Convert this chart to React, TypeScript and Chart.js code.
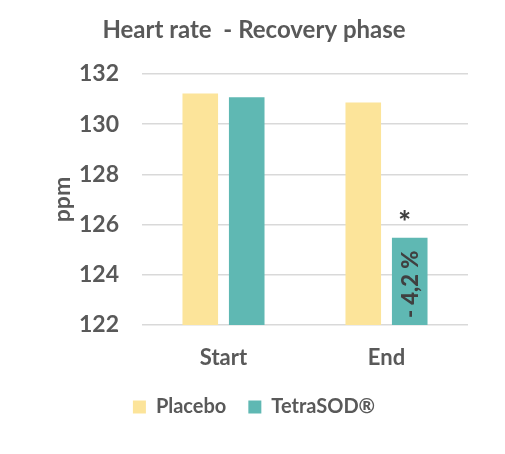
import { useEffect, useRef } from "react"
import { Chart, registerables, type ChartConfiguration, type Plugin } from "chart.js"

Chart.register(...registerables)

const phases = ["Start", "End"]
const placeboValues = [131.22, 130.86]
const tetraValues = [131.07, 125.48]
// text written inside / above the TetraSOD bars
const tetraInside = ["", "- 4,2 %"]
const tetraAbove = ["", "*"]

const FONT = "Lato, 'Open Sans', sans-serif"
const TEXT = "#595959"

const barNotes: Plugin<"bar"> = {
  id: "barNotes",
  afterDatasetsDraw(chart) {
    const ctx = chart.ctx
    const meta = chart.getDatasetMeta(1)
    const bottom = chart.chartArea.bottom
    meta.data.forEach((bar, i) => {
      const { x, y } = bar.getProps(["x", "y"], true) as any
      if (tetraInside[i]) {
        ctx.save()
        ctx.fillStyle = "#404040"
        ctx.font = `900 22px ${FONT}`
        ctx.translate(x + 1, (y + bottom) / 2 + 3)
        ctx.rotate(-Math.PI / 2)
        ctx.textAlign = "center"
        ctx.textBaseline = "middle"
        ctx.fillText(tetraInside[i], 0, 0)
        ctx.restore()
      }
      if (tetraAbove[i]) {
        ctx.save()
        ctx.fillStyle = "#404040"
        ctx.font = `900 30px ${FONT}`
        ctx.textAlign = "center"
        ctx.textBaseline = "middle"
        ctx.fillText(tetraAbove[i], x - 5, y - 14)
        ctx.restore()
      }
    })
  },
}

export default function App() {
  const canvasRef = useRef<HTMLCanvasElement>(null)

  useEffect(() => {
    if (!canvasRef.current) return
    Chart.defaults.font.family = FONT
    Chart.defaults.color = TEXT

    const config: ChartConfiguration<"bar"> = {
      type: "bar",
      data: {
        labels: phases,
        datasets: [
          {
            label: "Placebo",
            data: placeboValues,
            backgroundColor: "#FCE49A",
            categoryPercentage: 0.57,
            barPercentage: 0.766,
          },
          {
            label: "TetraSOD®",
            data: tetraValues,
            backgroundColor: "#5FB8B3",
            categoryPercentage: 0.57,
            barPercentage: 0.766,
          },
        ],
      },
      options: {
        responsive: false,
        animation: false,
        layout: { padding: { left: 40, right: 37, top: 0, bottom: 27 } },
        scales: {
          x: {
            grid: { display: false },
            border: { display: false },
            ticks: { font: { size: 22, weight: "bold" }, padding: 12, color: TEXT },
            afterFit: (s) => {
              s.height = 50
            },
          },
          y: {
            min: 122,
            max: 132,
            border: { display: false },
            grid: { color: "#D9D9D9", lineWidth: 1.5, drawTicks: false },
            ticks: { stepSize: 2, font: { size: 23, weight: "bold" }, padding: 23, color: TEXT },
            title: {
              display: true,
              text: "ppm",
              font: { size: 23, weight: "bold" },
              color: TEXT,
              padding: { top: 9, bottom: 0 },
            },
            afterFit: (s) => {
              s.width = 102
            },
          },
        },
        plugins: {
          title: {
            display: true,
            text: "Heart rate  - Recovery phase",
            font: { size: 24, weight: "bold" },
            color: TEXT,
            padding: { top: 16, bottom: 29.2 },
          },
          legend: {
            position: "bottom",
            labels: {
              boxWidth: 13,
              boxHeight: 13,
              padding: 22,
              font: { size: 20, weight: "bold" },
              color: TEXT,
            },
          },
          tooltip: { enabled: false },
        },
      },
      plugins: [barNotes],
    }

    const chart = new Chart(canvasRef.current, config)
    return () => chart.destroy()
  }, [])

  return (
    <div style={{ position: "absolute", left: 0, top: 0, width: 505, height: 454, background: "#fff" }}>
      <canvas ref={canvasRef} width={505} height={454} />
    </div>
  )
}
